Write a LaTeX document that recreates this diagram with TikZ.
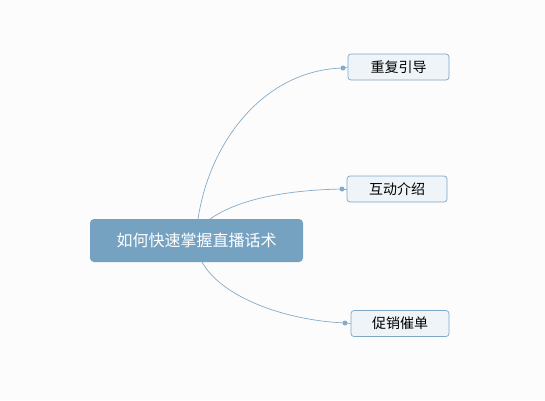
\documentclass[tikz,border=0pt]{standalone}
\usepackage{fontspec}
\newfontfamily\cjk{Noto Sans CJK SC}
\definecolor{bg}{HTML}{FCFCFC}
\definecolor{rootfill}{HTML}{76A2C2}
\definecolor{leaffill}{HTML}{EEF4F8}
\definecolor{leafline}{HTML}{7EA7C6}
\definecolor{conn}{HTML}{85ABC7}
\begin{document}
\begin{tikzpicture}[x=1pt,y=-1pt,
  rootbox/.style={draw=none,fill=rootfill,rounded corners=4pt,minimum width=213pt,minimum height=43pt,inner sep=0pt,text=white,font=\cjk\fontsize{16}{19}\selectfont},
  leafbox/.style={draw=leafline,line width=0.7pt,fill=leaffill,rounded corners=3pt,minimum height=26pt,inner sep=0pt,text=black,font=\cjk\fontsize{14}{17}\selectfont},
  link/.style={draw=conn,line width=0.7pt},
  dot/.style={circle,fill=conn,inner sep=0pt,minimum size=5pt}]
\fill[bg] (0,0) rectangle (545,400);
\useasboundingbox (0,0) rectangle (545,400);
\node[rootbox] (root) at (196.5,240.5) {如何快速掌握直播话术};
\node[leafbox,minimum width=101pt] (l1) at (398.5,67) {重复引导};
\node[leafbox,minimum width=100pt] (l2) at (397,189) {互动介绍};
\node[leafbox,minimum width=98pt] (l3) at (400,323.5) {促销催单};
\node[dot] (d1) at (343,68) {};
\node[dot] (d2) at (342,189) {};
\node[dot] (d3) at (345,323) {};
\coordinate (s1) at (198,219);
\coordinate (s2) at (210,219);
\coordinate (s3) at (202,262);
\draw[link] (s1) .. controls (210,140) and (265,70) .. (d1.center);
\draw[link] (s2) .. controls (240,198) and (290,190) .. (d2.center);
\draw[link] (s3) .. controls (220,295) and (280,320) .. (d3.center);
\draw[link] (d1.center) -- (l1.west);
\draw[link] (d2.center) -- (l2.west);
\draw[link] (d3.center) -- (l3.west);
\end{tikzpicture}
\end{document}
